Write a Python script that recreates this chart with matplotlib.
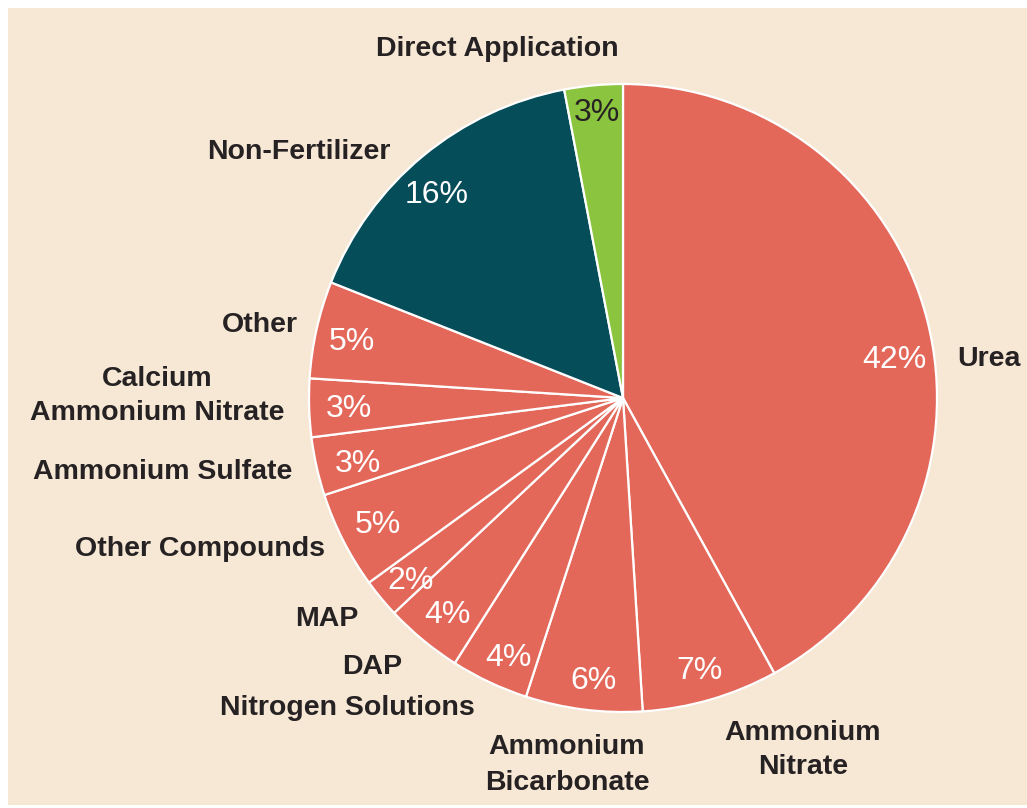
import matplotlib
matplotlib.use("Agg")
import matplotlib.pyplot as plt
from matplotlib.patches import Rectangle

# Global nitrogen use by end product (share of total, %)
categories = [
    "Urea", "Ammonium\nNitrate", "Ammonium\nBicarbonate", "Nitrogen Solutions",
    "DAP", "MAP", "Other Compounds", "Ammonium Sulfate",
    "Calcium\nAmmonium Nitrate", "Other", "Non-Fertilizer", "Direct Application",
]
shares = [42, 7, 6, 4, 4, 2, 5, 3, 3, 5, 16, 3]

CORAL = "#E4685A"
TEAL = "#044D59"
GREEN = "#8BC43F"
BEIGE = "#F6E8D4"
INK = "#262223"
colors = [CORAL] * 10 + [TEAL, GREEN]
pct_colors = ["white"] * 11 + [INK]

# Layout (pixel coordinates, y measured downward from the top edge)
W, H = 1027, 808
CX, CY, R = 623, 398, 314
pct_pos = [(894, 360), (700, 671), (593, 681), (508, 658), (447, 615), (411, 581),
           (378, 525), (358, 464), (349, 409), (352, 342), (437, 195), (597, 113)]
label_pos = [(989, 359), (803, 750), (567, 765), (347, 708), (372, 667), (327, 619),
             (200, 549), (163, 472), (157, 396), (260, 325), (299, 152), (497, 49)]

FONT = ["Liberation Sans", "DejaVu Sans"]

fig = plt.figure(figsize=(W / 100, H / 100), dpi=100)
fig.patch.set_facecolor("white")
ax = fig.add_axes([0, 0, 1, 1])

# beige panel inside the thin white margin
ax.add_patch(Rectangle((8, H - 805), W - 8, 805 - 8, facecolor=BEIGE,
                       edgecolor="none", zorder=0))

ax.pie(shares, colors=colors, startangle=90, counterclock=False,
       radius=R, center=(CX, H - CY), frame=True,
       wedgeprops=dict(edgecolor="white", linewidth=1.6, zorder=2))
ax.set_xlim(0, W)
ax.set_ylim(0, H)
ax.set_aspect("equal")
ax.axis("off")

for v, (x, y), c in zip(shares, pct_pos, pct_colors):
    ax.text(x, H - y, f"{v}%", ha="center", va="center", color=c,
            fontsize=23, family=FONT, zorder=5)

for name, (x, y) in zip(categories, label_pos):
    ax.text(x, H - y, name, ha="center", va="center", color=INK,
            fontsize=20.5, family=FONT, fontweight="bold",
            multialignment="center", linespacing=1.45, zorder=5)

fig.savefig("out.png", dpi=100, facecolor="white")
